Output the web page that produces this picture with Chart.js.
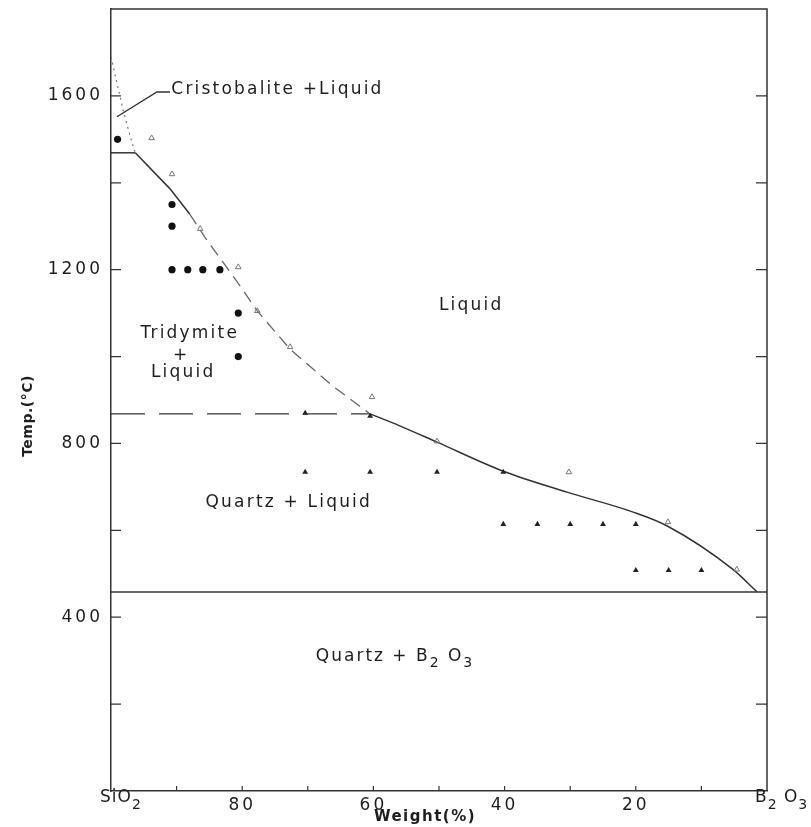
<!DOCTYPE html>
<html><head><meta charset="utf-8">
<script src="https://cdn.jsdelivr.net/npm/chart.js@4.4.0/dist/chart.umd.min.js"></script>
<style>html,body{margin:0;padding:0;background:#fff;}</style>
</head><body>
<canvas id="c" width="811" height="827"></canvas>
<script>
// ---- data: weight % SiO2 (x) and temperature in °C (y) ----
const xTickValues = [100, 90, 80, 70, 60, 50, 40, 30, 20, 10, 0];
const xTickLabels = ['', '', '80', '', '60', '', '40', '', '20', '', ''];
const yTickLabels = [400, 800, 1200, 1600];

const cristLiqW = [100, 98.2, 97.1, 96.3];
const cristLiqT = [1690, 1570, 1508, 1469];
const tridLiqSolidW = [96.3, 91.0, 88.0];
const tridLiqSolidT = [1469, 1386, 1328];
const tridLiqDashW = [88.0, 85.7, 80.3, 77.7, 72.7, 66.2, 60.5];
const tridLiqDashT = [1328, 1275, 1162, 1105, 1017, 932, 868];
const quartzLiqW = [60.5, 55.9, 50.3, 40.2, 30.5, 20.4, 15.2, 5.2, 1.5];
const quartzLiqT = [868, 840, 803, 736, 688, 642, 610, 510, 458];

const cristTridW = [100, 96.3];   const cristTridT = [1469, 1469];
const tridQuartzW = [100, 60.5];  const tridQuartzT = [868, 868];
const eutecticW = [100, 0];       const eutecticT = [458, 458];
const leaderW = [99.1, 93.0, 91.0]; const leaderT = [1552, 1609, 1609];

const dotW = [99, 90.7, 90.7, 90.7, 88.3, 86, 83.4, 80.6, 80.6];
const dotT = [1500, 1350, 1300, 1200, 1200, 1200, 1200, 1100, 1000];
const triW = [70.4, 60.5, 70.4, 60.5, 50.3, 40.2, 40.2, 35, 30, 25, 20, 20, 15, 10];
const triT = [870, 863, 734, 734, 734, 734, 614, 614, 614, 614, 614, 508, 508, 508];
const openW = [93.8, 90.7, 86.4, 80.6, 77.7, 72.7, 60.2, 50.3, 30.2, 15.1, 4.6];
const openT = [1503, 1420, 1294, 1206, 1105, 1022, 907, 805, 734, 619, 510];

const regionText = ['Cristobalite +Liquid', 'Liquid', 'Tridymite', '+', 'Liquid', 'Quartz + Liquid'];
const regionW = [90.8, 45.1, 88.0, 89.3, 89.0, 72.9];
const regionT = [1614, 1118, 1054, 1003, 964, 665];
const regionAlign = ['left', 'center', 'center', 'center', 'center', 'center'];

function pts(ws, ts) { return ws.map((w, i) => ({x: w, y: ts[i]})); }

const INK = '#1e1e1e';
const LINE = '#333';
const FONT = '"DejaVu Sans", sans-serif';

function lineDs(ws, ts, extra) {
  return Object.assign({
    data: pts(ws, ts), showLine: true, pointRadius: 0, borderColor: LINE,
    borderWidth: 1.5, fill: false, order: 2
  }, extra || {});
}

function richText(ctx, parts, x, y, align, size) {
  const big = size + 'px ' + FONT, small = Math.round(size * 0.8) + 'px ' + FONT;
  let total = 0;
  parts.forEach(p => { ctx.font = p[1] ? small : big; total += ctx.measureText(p[0]).width; });
  let cx = align === 'center' ? x - total / 2 : x;
  ctx.textAlign = 'left';
  ctx.textBaseline = 'middle';
  parts.forEach(p => {
    ctx.font = p[1] ? small : big;
    ctx.fillText(p[0], cx, p[1] ? y + 7 : y);
    cx += ctx.measureText(p[0]).width;
  });
}

const decor = {
  id: 'decor',
  beforeDraw(chart) { chart.ctx.letterSpacing = '3px'; },
  afterDraw(chart) {
    const ctx = chart.ctx, a = chart.chartArea;
    const xs = chart.scales.x, ys = chart.scales.y;
    ctx.save();
    ctx.letterSpacing = '0px';
    ctx.strokeStyle = LINE; ctx.lineWidth = 1.5;
    ctx.beginPath();
    ctx.moveTo(a.left, a.top); ctx.lineTo(a.right, a.top); ctx.lineTo(a.right, a.bottom);
    ctx.stroke();
    ctx.lineWidth = 1.2;
    ctx.beginPath();
    for (let t = 200; t < 1800; t += 200) {
      const py = ys.getPixelForValue(t);
      ctx.moveTo(a.left, py); ctx.lineTo(a.left + 10, py);
      ctx.moveTo(a.right, py); ctx.lineTo(a.right - 11, py);
    }
    xTickValues.forEach(v => {
      if (v === 0 || v === 100) return;
      const px = xs.getPixelForValue(v);
      ctx.moveTo(px, a.bottom); ctx.lineTo(px, a.bottom - 5);
    });
    ctx.stroke();
    ctx.fillStyle = INK;
    ctx.font = '17px ' + FONT;
    ctx.letterSpacing = '2.2px';
    ctx.textBaseline = 'middle';
    regionText.forEach((s, i) => {
      ctx.textAlign = regionAlign[i];
      ctx.fillText(s, xs.getPixelForValue(regionW[i]), ys.getPixelForValue(regionT[i]));
    });
    ctx.letterSpacing = '2px';
    richText(ctx, [['Quartz + B', false], ['2', true], [' O', false], ['3', true]],
      xs.getPixelForValue(56.7), ys.getPixelForValue(310), 'center', 17);
    ctx.letterSpacing = '1px';
    richText(ctx, [['SiO', false], ['2', true]], 100, 798, 'left', 17);
    richText(ctx, [['B', false], ['2', true], [' O', false], ['3', true]], 755, 798, 'left', 17);
    ctx.letterSpacing = '1.5px';
    ctx.font = 'bold 15px ' + FONT;
    ctx.textAlign = 'center'; ctx.textBaseline = 'middle';
    ctx.fillText('Weight(%)', 425, 817);
    ctx.save();
    ctx.translate(28, 416);
    ctx.rotate(-Math.PI / 2);
    ctx.letterSpacing = '0.5px';
    ctx.font = 'bold 14px ' + FONT;
    ctx.fillText('Temp.(°C)', 0, 0);
    ctx.restore();
    ctx.restore();
  }
};

new Chart(document.getElementById('c'), {
  type: 'scatter',
  data: {
    datasets: [
      lineDs(cristLiqW, cristLiqT, {borderDash: [2, 4], borderColor: '#777', borderWidth: 1.2}),
      lineDs(cristTridW, cristTridT),
      lineDs(tridLiqSolidW, tridLiqSolidT),
      lineDs(tridLiqDashW, tridLiqDashT, {borderDash: [12, 7], borderColor: '#666', borderWidth: 1.3}),
      lineDs(quartzLiqW, quartzLiqT, {cubicInterpolationMode: 'monotone'}),
      lineDs(tridQuartzW, tridQuartzT, {borderDash: [34, 14], borderWidth: 1.3}),
      lineDs(eutecticW, eutecticT, {borderWidth: 1.4}),
      lineDs(leaderW, leaderT, {borderWidth: 1.4}),
      {data: pts(dotW, dotT), pointStyle: 'circle', pointRadius: 3.6, backgroundColor: '#111', borderColor: '#111', borderWidth: 0, order: 0},
      {data: pts(triW, triT), pointStyle: 'triangle', pointRadius: 3.4, backgroundColor: '#222', borderColor: '#222', borderWidth: 0, order: 0},
      {data: pts(openW, openT), pointStyle: 'triangle', pointRadius: 3.2, backgroundColor: 'rgba(0,0,0,0)', borderColor: '#777', borderWidth: 1, order: 0}
    ]
  },
  options: {
    responsive: false,
    animation: false,
    devicePixelRatio: 1,
    layout: {padding: {top: 9, right: 44, bottom: 0, left: 0}},
    plugins: {legend: {display: false}, tooltip: {enabled: false}},
    scales: {
      x: {
        type: 'linear', min: 0, max: 100, reverse: true,
        afterBuildTicks: s => { s.ticks = xTickValues.map(v => ({value: v})); },
        afterFit: s => { s.height = 36; s.paddingLeft = 0; s.paddingRight = 0; },
        grid: {display: false, drawTicks: false},
        border: {display: true, color: LINE, width: 1.5},
        ticks: {
          autoSkip: false, maxRotation: 0, padding: 4, color: INK,
          font: {family: 'DejaVu Sans', size: 17},
          callback: v => xTickLabels[xTickValues.indexOf(v)] || ''
        }
      },
      y: {
        type: 'linear', min: 0, max: 1800,
        afterFit: s => { s.width = 111; s.paddingTop = 0; s.paddingBottom = 0; },
        grid: {display: false, drawTicks: false},
        border: {display: true, color: LINE, width: 1.5},
        ticks: {
          stepSize: 200, autoSkip: false, padding: 8, color: INK,
          font: {family: 'DejaVu Sans', size: 17},
          callback: v => yTickLabels.includes(v) ? String(v) : ''
        }
      }
    }
  },
  plugins: [decor]
});
</script>
</body></html>
